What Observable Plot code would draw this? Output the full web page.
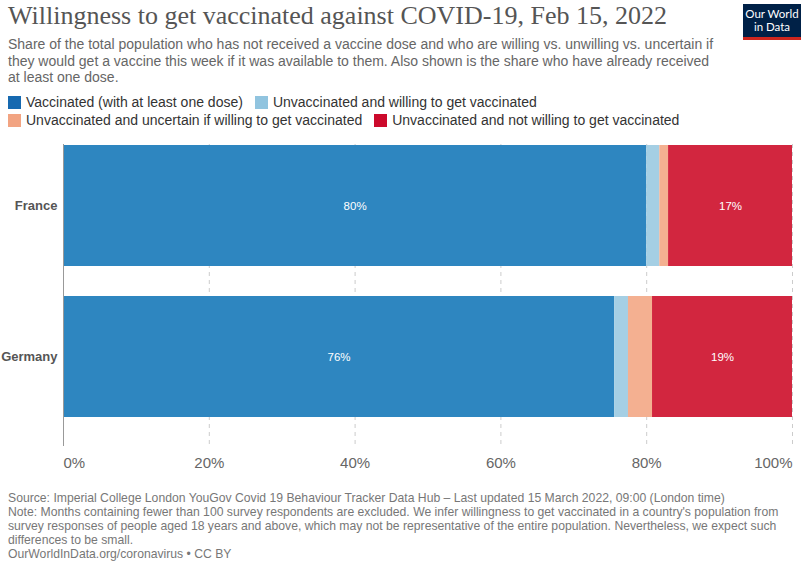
<!DOCTYPE html>
<html>
<head>
<meta charset="utf-8">
<script src="https://cdn.jsdelivr.net/npm/d3@7"></script>
<script src="https://cdn.jsdelivr.net/npm/@observablehq/plot@0.6"></script>
<style>
  body { margin: 0; background: #fff; font-family: "Liberation Sans", Arial, sans-serif; }
  #wrap { position: relative; width: 803px; height: 561px; overflow: hidden; }
  .abs { position: absolute; }
  #title { left: 8px; top: 1px; font-family: "Liberation Serif", serif; font-size: 26px; color: #555; white-space: nowrap; }
  #subtitle { left: 8px; top: 36px; width: 740px; font-size: 14px; line-height: 16.7px; color: #666; white-space: nowrap; }
  #legend { left: 8px; top: 93px; width: 785px; font-size: 14px; line-height: 18px; color: #333; }
  .li { display: inline-block; margin-right: 12px; white-space: nowrap; }
  .sw { display: inline-block; width: 13px; height: 13px; vertical-align: -2px; margin-right: 5px; }
  #logo { left: 743px; top: 4px; width: 58px; background: #002147; border-bottom: 3px solid #ce261e; color: #fff; font-family: Lato, "Liberation Sans", sans-serif; font-size: 11.5px; line-height: 13px; text-align: center; padding-top: 3px; height: 30px; }
  #chart { left: 0; top: 139px; }
  #footer { left: 8px; top: 491px; width: 790px; font-size: 12.2px; line-height: 14px; color: #777; }
</style>
</head>
<body>
<div id="wrap">
  <div id="title" class="abs">Willingness to get vaccinated against COVID-19, Feb 15, 2022</div>
  <div id="logo" class="abs">Our World<br>in Data</div>
  <div id="subtitle" class="abs">Share of the total population who has not received a vaccine dose and who are willing vs. unwilling vs. uncertain if<br>they would get a vaccine this week if it was available to them. Also shown is the share who have already received<br>at least one dose.</div>
  <div id="legend" class="abs"></div>
  <div id="chart" class="abs"></div>
  <div id="footer" class="abs">Source: Imperial College London YouGov Covid 19 Behaviour Tracker Data Hub – Last updated 15 March 2022, 09:00 (London time)<br>Note: Months containing fewer than 100 survey respondents are excluded. We infer willingness to get vaccinated in a country's population from survey responses of people aged 18 years and above, which may not be representative of the entire population. Nevertheless, we expect such differences to be small.<br>OurWorldInData.org/coronavirus • CC BY</div>
</div>
<script>
const countries = ["France", "Germany"];
const categories = [
  "Vaccinated (with at least one dose)",
  "Unvaccinated and willing to get vaccinated",
  "Unvaccinated and uncertain if willing to get vaccinated",
  "Unvaccinated and not willing to get vaccinated"
];
const vaccinated = [80.0, 75.6];
const willing = [1.8, 1.9];
const uncertain = [1.2, 3.3];
const notWilling = [17.0, 19.2];
const xTicks = [0, 20, 40, 60, 80, 100];

const barColors = ["#2e86c0", "#a5cfe4", "#f4b091", "#d2263f"];
const legendColors = ["#1669b0", "#91c4df", "#f2a482", "#cc0a2c"];

const series = [vaccinated, willing, uncertain, notWilling];
const data = [];
countries.forEach((c, i) => {
  categories.forEach((cat, j) => {
    data.push({country: c, category: cat, value: series[j][i]});
  });
});

// legend
const legend = document.getElementById("legend");
categories.forEach((cat, j) => {
  const span = document.createElement("span");
  span.className = "li";
  span.innerHTML = `<span class="sw" style="background:${legendColors[j]}"></span>${cat}`;
  legend.appendChild(span);
  if (j === 1) legend.appendChild(document.createElement("br"));
});

const fmt = d => d + "%";
const axisOpts = {tickFormat: fmt, tickSize: 0, tickPadding: 11, fontSize: 15, color: "#666", label: null};

const chart = Plot.plot({
  width: 803,
  height: 345,
  marginLeft: 63,
  marginRight: 11,
  marginTop: 5,
  marginBottom: 38,
  style: {fontFamily: "Liberation Sans, Arial, sans-serif", background: "transparent"},
  x: {domain: [0, 100], label: null},
  y: {domain: countries, range: [5, 278], paddingInner: 0.2, paddingOuter: 0, label: null},
  color: {domain: categories, range: barColors},
  marks: [
    Plot.ruleX(xTicks.filter(d => d > 0), {stroke: "#ccc", strokeDasharray: "4,4", strokeWidth: 1}),
    Plot.barX(data, {x: "value", y: "country", fill: "category", z: "category", order: categories}),
    Plot.ruleX([0], {stroke: "#999", strokeWidth: 1}),
    Plot.text(data, Plot.stackX({
      x: "value", y: "country", z: "category", order: categories,
      text: d => d.value > 10 ? Math.round(d.value) + "%" : "",
      fill: "white", fontSize: 11.5
    })),
    Plot.axisX({...axisOpts, ticks: xTicks.slice(0, 1), textAnchor: "start"}),
    Plot.axisX({...axisOpts, ticks: xTicks.slice(1, -1)}),
    Plot.axisX({...axisOpts, ticks: xTicks.slice(-1), textAnchor: "end"}),
    Plot.axisY({tickSize: 0, tickPadding: 6, fontSize: 13, fontWeight: "bold", color: "#555", label: null})
  ]
});
document.getElementById("chart").appendChild(chart);
</script>
</body>
</html>
